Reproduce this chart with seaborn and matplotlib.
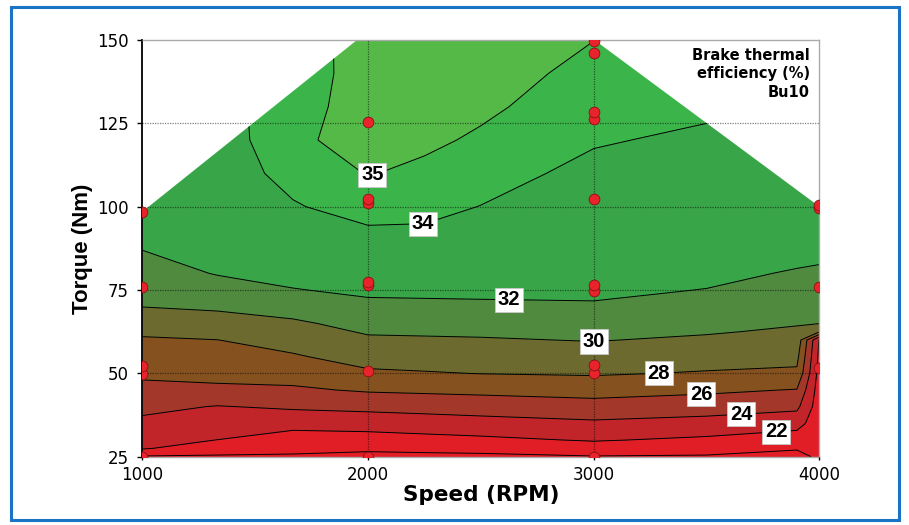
import numpy as np
import seaborn as sns
import matplotlib.pyplot as plt
from matplotlib.patches import Polygon, Rectangle

sns.set_style("white")
plt.rcParams['font.family'] = ['DejaVu Sans']
plt.rcParams['text.color'] = 'black'
plt.rcParams['axes.labelcolor'] = 'black'
plt.rcParams['xtick.color'] = 'black'
plt.rcParams['ytick.color'] = 'black'

# measured operating points (red dots)
pt_speed = [1000, 1000, 1000, 1000, 1000,
            2000, 2000, 2000, 2000, 2000, 2000, 2000,
            3000, 3000, 3000, 3000, 3000, 3000, 3000, 3000, 3000, 3000,
            4000, 4000, 4000, 4000]
pt_torque = [25, 49.8, 52.2, 76, 98.5,
             25, 50.7, 76.5, 77.5, 101, 102.2, 125.3,
             25, 50.2, 52.5, 74.7, 76.5, 102.3, 126.3, 128.4, 146.2, 149.8,
             51.5, 75.8, 99.6, 100.5]

# brake thermal efficiency (%), one list per speed
grid_speed = [1000, 1333, 1667, 2000, 2250, 2500, 3000, 3500, 3900, 4000]
grid_torque = [25, 27.5, 30, 35, 40, 45, 50, 55, 60, 62.5, 65, 70, 75, 80, 90, 100, 110, 120, 130, 140, 150]
bte_1000 = [19.8, 22.18, 22.54, 23.54, 24.52, 25.48, 26.34, 27.07, 27.81, 28.28, 28.85, 30.02, 30.61, 31.21, 32.35, 33.3, 33.5, 33.6, 33.7, 33.8, 33.9]
bte_1333 = [19.78, 20.89, 21.98, 22.95, 23.9, 25.69, 26.46, 27.23, 27.98, 28.59, 29.18, 30.29, 31.24, 32.1, 32.6, 33.1, 33.5, 33.4, 33.6, 33.8, 33.9]
bte_1667 = [19.78, 20.46, 21.14, 22.62, 24.29, 25.71, 26.8, 27.8, 28.76, 29.24, 29.71, 30.8, 31.95, 32.37, 33.15, 33.92, 34.3, 34.8, 34.6, 34.4, 34.3]
bte_2000 = [19.5, 20.33, 21.17, 22.83, 24.52, 26.21, 27.7, 28.76, 29.71, 30.18, 30.62, 31.75, 32.2, 32.67, 33.7, 34.38, 35.05, 35.4, 35.45, 35.5, 35.6]
bte_2250 = [19.55, 20.47, 21.39, 23.06, 24.7, 26.35, 27.87, 28.86, 29.78, 30.24, 30.68, 31.8, 32.2, 32.6, 33.75, 34.26, 34.78, 35.2, 35.35, 35.48, 35.6]
bte_2500 = [19.6, 20.6, 21.6, 23.29, 24.89, 26.48, 28.04, 28.95, 29.85, 30.3, 30.74, 31.84, 32.2, 32.56, 33.28, 33.98, 34.4, 34.85, 35.2, 35.45, 35.6]
bte_3000 = [19.9, 21.07, 22.15, 23.69, 25.23, 26.77, 28.19, 29.14, 30.08, 30.49, 30.9, 31.92, 32.15, 32.37, 32.82, 33.26, 33.71, 34.1, 34.4, 34.7, 35.01]
bte_3500 = [19.82, 20.73, 21.64, 23.33, 24.88, 26.36, 27.85, 28.82, 29.73, 30.15, 30.51, 31.24, 31.98, 32.19, 32.59, 32.99, 33.4, 33.8, 34.2, 34.5, 34.8]
bte_3900 = [19.33, 20.17, 21.0, 22.73, 24.44, 25.91, 27.67, 28.5, 29.33, 29.75, 30.11, 30.69, 31.26, 31.93, 32.4, 32.9, 33.3, 33.7, 34.0, 34.3, 34.6]
bte_4000 = [20.4, 20.5, 20.6, 20.8, 20.9, 21.0, 21.2, 21.5, 21.8, 28.1, 30.05, 30.58, 31.14, 31.82, 32.5, 33.2, 33.5, 33.8, 34.0, 34.2, 34.4]

# full-load torque envelope
env_speed = [1000, 1951, 3003, 4000]
env_torque = [98.5, 150, 150, 100]

levels = [18, 20, 22, 24, 26, 28, 30, 32, 34, 35, 36]
line_levels = [20, 22, 24, 26, 28, 30, 32, 34, 35]
label_levels = [22, 24, 26, 28, 30, 32, 34, 35]
band_colors = ['#e31d25', '#e11e26', '#c1252a', '#a3372a', '#84511f',
               '#6c6a2f', '#4f8a3f', '#38a548', '#3bb44a', '#55b948']

Z = np.column_stack([bte_1000, bte_1333, bte_1667, bte_2000, bte_2250, bte_2500,
                     bte_3000, bte_3500, bte_3900, bte_4000])

fig, ax = plt.subplots(figsize=(9.09, 5.25), dpi=100)
fig.subplots_adjust(left=0.1566, right=0.9015, top=0.9238, bottom=0.1301)

cf = ax.contourf(grid_speed, grid_torque, Z, levels=levels, colors=band_colors, zorder=1)
cl = ax.contour(grid_speed, grid_torque, Z, levels=line_levels, colors='black',
                linewidths=0.7, zorder=2)

# invisible copy of the labelled levels, only used to place the boxed labels
cl_lab = ax.contour(grid_speed, grid_torque, Z, levels=label_levels, colors='black',
                    linewidths=0, zorder=2)
label_pos = [(2028, 107), (2243, 94.6), (2624, 72.1), (3001, 59.3),
             (3289, 49.6), (3476, 43.5), (3653, 37.5), (3808, 32)]
texts = ax.clabel(cl_lab, manual=label_pos, inline=False, fmt='%d', fontsize=14.5)
for t in texts:
    t.set_rotation(0)
    t.set_fontweight('bold')
    t.set_fontfamily(['Liberation Sans', 'DejaVu Sans'])
    t.set_bbox(dict(boxstyle='square,pad=0.13', fc='white', ec='#c8c8c8', lw=0.6))
    t.set_zorder(6)

hull = list(zip(env_speed, env_torque)) + [(4000, 20), (1000, 20)]
clip = Polygon(hull, closed=True, transform=ax.transData)
cf.set_clip_path(clip)
cl.set_clip_path(clip)

sns.scatterplot(x=pt_speed, y=pt_torque, ax=ax, color='#e8232b', edgecolor='#8a1015',
                linewidth=0.6, s=60, zorder=5, legend=False)

ax.set_xlim(1000, 4000)
ax.set_ylim(25, 150)
ax.set_xticks([1000, 2000, 3000, 4000])
ax.set_yticks([25, 50, 75, 100, 125, 150])
ax.set_axisbelow(False)
ax.grid(True, color='black', alpha=0.5, linestyle=(0, (1, 1)), linewidth=0.9)
for gl in (ax.xaxis.get_gridlines()[0], ax.xaxis.get_gridlines()[-1],
           ax.yaxis.get_gridlines()[0], ax.yaxis.get_gridlines()[-1]):
    gl.set_visible(False)
ax.tick_params(axis='x', direction='out', length=2.5, width=1, pad=4, labelsize=12)
ax.tick_params(axis='y', direction='out', length=3.6, width=1, pad=6, labelsize=12)
ax.tick_params(left=True, bottom=True)
for side in ['top', 'right', 'bottom']:
    ax.spines[side].set_color('#aaaaaa')
    ax.spines[side].set_linewidth(1.0)
ax.spines['left'].set_color('black')
ax.spines['left'].set_linewidth(1.3)

ax.set_xlabel('Speed (RPM)', fontsize=15.5, fontweight='bold', labelpad=1)
ax.set_ylabel('Torque (Nm)', fontsize=16, fontweight='bold', labelpad=3,
              family=['Liberation Sans', 'DejaVu Sans'])

ax.text(0.986, 0.982, 'Brake thermal\nefficiency (%)\nBu10', transform=ax.transAxes,
        ha='right', va='top', multialignment='right', fontsize=10.5,
        fontweight='bold', linespacing=1.3, zorder=7)

fig.patches.append(Rectangle((0.0116, 0.0095), 0.9779, 0.9781, transform=fig.transFigure,
                             fill=False, edgecolor='#1a73c4', linewidth=2.2))

fig.savefig('out.png', dpi=100)
